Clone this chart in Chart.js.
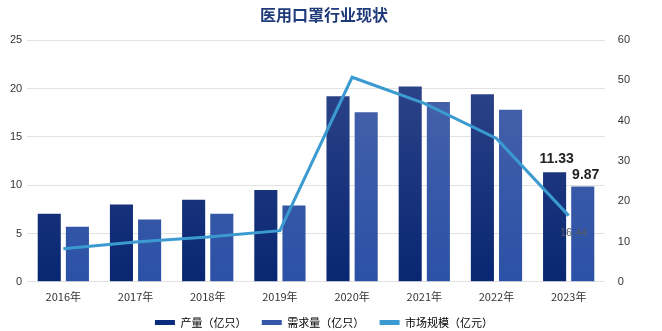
<!DOCTYPE html>
<html>
<head>
<meta charset="utf-8">
<script src="https://cdn.jsdelivr.net/npm/chart.js@4.4.0/dist/chart.umd.min.js"></script>
<style>
    body { margin: 0; background: #ffffff; overflow: hidden; }
    #wrap { width: 662px; height: 331px; overflow: hidden; }
</style>
</head>
<body>
<div id="wrap"><canvas id="grafico" width="662" height="338"></canvas></div>
<script>
'use strict';

const anos = ['2016年', '2017年', '2018年', '2019年', '2020年', '2021年', '2022年', '2023年'];
const producao = [7.05, 8.0, 8.5, 9.5, 19.2, 20.2, 19.4, 11.33];
const demanda = [5.7, 6.45, 7.05, 7.9, 17.55, 18.6, 17.8, 9.87];
const mercado = [8.2, 9.9, 11.1, 12.7, 50.8, 44.3, 35.6, 16.44];
const etiquetas = ['11.33', '9.87', '16.44'];

function gradiente(ctx, topo, base)
{
    const area = ctx.chart.chartArea;
    if(!area) return base;
    const g = ctx.chart.ctx.createLinearGradient(0, area.top, 0, area.bottom);
    g.addColorStop(0, topo);
    g.addColorStop(1, base);
    return g;
}

// rótulos do último ano
const rotulos = {
    id: 'rotulos',
    afterDatasetsDraw(chart) {
        const c = chart.ctx;
        const ultimo = anos.length - 1;
        c.save();
        c.textAlign = 'center';
        c.textBaseline = 'bottom';
        c.font = 'bold 14px "Liberation Sans", Arial, sans-serif';
        c.fillStyle = '#222222';
        const p = chart.getDatasetMeta(0).data[ultimo];
        c.fillText(etiquetas[0], p.x + 2, p.y - 6);
        const d = chart.getDatasetMeta(1).data[ultimo];
        c.fillText(etiquetas[1], d.x + 3, d.y - 4);
        const m = chart.getDatasetMeta(2).data[ultimo];
        c.font = '11px "Liberation Sans", Arial, sans-serif';
        c.fillStyle = '#555a66';
        c.textBaseline = 'middle';
        c.fillText(etiquetas[2], m.x + 5, m.y + 17);
        c.restore();
    }
};

const ctx = document.getElementById('grafico');

new Chart(ctx, {
    type: 'bar',
    data: {
        labels: anos,
        datasets: [
            {
                label: '产量（亿只）',
                data: producao,
                yAxisID: 'y',
                order: 2,
                backgroundColor: (c) => gradiente(c, '#33498c', '#082672'),
                borderWidth: 0,
                categoryPercentage: 0.78,
                barPercentage: 0.82
            },
            {
                label: '需求量（亿只）',
                data: demanda,
                yAxisID: 'y',
                order: 2,
                backgroundColor: (c) => gradiente(c, '#4b64aa', '#2b51a6'),
                borderWidth: 0,
                categoryPercentage: 0.78,
                barPercentage: 0.82
            },
            {
                type: 'line',
                label: '市场规模（亿元）',
                data: mercado,
                yAxisID: 'y1',
                order: 1,
                borderColor: '#3b9bd1',
                backgroundColor: '#3b9bd1',
                borderWidth: 3,
                pointRadius: 0,
                tension: 0,
                fill: false
            }
        ]
    },
    options: {
        responsive: false,
        animation: false,
        layout: { padding: { left: 5, right: 19, top: 0, bottom: 0 } },
        plugins: {
            title: {
                display: true,
                text: '医用口罩行业现状',
                color: '#1f3a78',
                font: { size: 16, weight: 'bold', family: '"Noto Sans CJK SC", sans-serif' },
                padding: { top: 5, bottom: 16 }
            },
            legend: {
                position: 'bottom',
                labels: {
                    boxWidth: 20,
                    boxHeight: 5,
                    padding: 3,
                    color: '#222222',
                    font: { size: 11, family: '"Noto Sans CJK SC", sans-serif' },
                    generateLabels(chart) {
                        const cores = ['#0b2c7e', '#3556aa', '#3b9bd1'];
                        const total = chart.data.datasets.length;
                        return chart.data.datasets.map((ds, i) => ({
                            text: i < total - 1 ? ds.label + '     ' : ds.label,
                            fillStyle: cores[i],
                            strokeStyle: cores[i],
                            lineWidth: 0,
                            hidden: false,
                            datasetIndex: i
                        }));
                    }
                }
            },
            tooltip: { enabled: false }
        },
        scales: {
            x: {
                grid: { display: false },
                border: { display: false },
                ticks: { color: '#333333', font: { size: 11, family: '"Noto Sans CJK SC", sans-serif' }, padding: 0 },
                afterFit(scale) { scale.height += 11; }
            },
            y: {
                position: 'left',
                min: 0,
                max: 25,
                ticks: { stepSize: 5, color: '#333333', font: { size: 11 }, padding: 5 },
                grid: { color: '#e2e2e2', drawTicks: false },
                border: { display: false }
            },
            y1: {
                position: 'right',
                min: 0,
                max: 60,
                ticks: { stepSize: 10, color: '#333333', font: { size: 11 }, padding: 13 },
                grid: { display: false, drawTicks: false },
                border: { display: false }
            }
        }
    },
    plugins: [rotulos]
});
</script>
</body>
</html>
